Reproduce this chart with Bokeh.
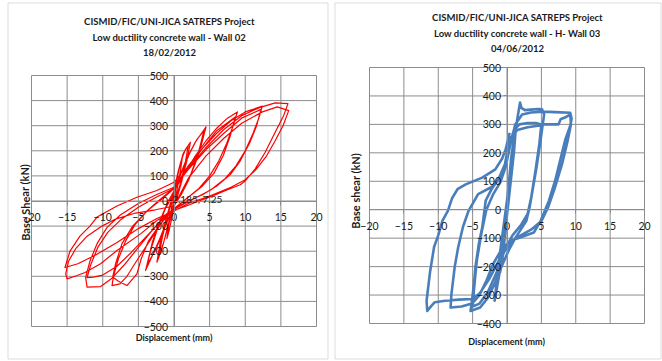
from bokeh.plotting import figure
from bokeh.layouts import row
from bokeh.models import Range1d, FixedTicker, Label, BoxAnnotation
from bokeh.embed import file_html
from bokeh.resources import INLINE

# ---------------- data ----------------
x_ticks = [-20, -15, -10, -5, 0, 5, 10, 15, 20]
wall02_y_ticks = [-500, -400, -300, -200, -100, 0, 100, 200, 300, 400, 500]
wall03_y_ticks = [-400, -300, -200, -100, 0, 100, 200, 300, 400, 500]

wall02_title = ["CISMID/FIC/UNI-JICA SATREPS Project",
                "Low ductility concrete wall - Wall 02", "18/02/2012"]
wall03_title = ["CISMID/FIC/UNI-JICA SATREPS Project",
                "Low ductility concrete wall - H- Wall 03", "04/06/2012"]

wall02_point_label = [-2.185, 7.25]

# Wall 02 : displacement (mm) / base shear (kN)
wall02_disp = [
    0, 0.3, 0.7, 1.2, 0.9, 0.4, 0, -0.4, -0.7, -1.0, -0.7, -0.3, 0,
    0.5, 1.0, 1.6, 2.3, 1.8, 1.1, 0.4, -0.3, -1.0, -1.7, -2.4, -1.9, -1.2, -0.5, 0,
    0.6, 1.3, 2.0, 1.5, 0.8, 0.1, -0.6, -1.4, -2.2, -1.6, -0.8, -0.1,
    0.8, 1.8, 3.0, 4.5, 3.8, 3.0, 2.0, 1.0, 0, -1.0, -2.0, -3.0, -4.0, -3.2, -2.2, -1.2, 0,
    1.0, 2.2, 3.2, 4.2, 3.4, 2.4, 1.2, 0, -1.2, -2.5, -3.8, -3.0, -2.0, -0.8, 0,
    1.5, 3.0, 4.5, 6.0, 7.5, 8.9, 8.3, 7.4, 6.3, 5.0, 3.5, 2.0, 0.5, -1.0, -2.5, -4.0,
    -5.5, -6.6, -7.6, -8.7, -8.5, -7.8, -6.8, -5.5, -3.8, -2.0, -0.5, 0.3,
    2.0, 4.0, 6.0, 8.6, 7.9, 6.9, 5.6, 4.0, 2.0, 0, -2.0, -3.6, -4.6, -5.2, -6.6, -7.8,
    -8.6, -8.2, -7.3, -5.8, -3.8, -1.6, 0,
    2.0, 4.0, 6.0, 8.0, 10.0, 12.4, 11.9, 11.1, 10.0, 8.7, 7.2, 5.2, 3.0, 1.0, -1.0, -3.0,
    -5.0, -7.0, -8.8, -10.3, -12.2, -12.4, -11.8, -10.8, -9.4, -7.5, -5.0, -2.5, 0,
    2.0, 4.5, 7.0, 9.5, 12.2, 11.6, 10.6, 9.3, 7.9, 6.0, 4.0, 2.0, 0, -2.0, -4.0, -6.0,
    -8.0, -10.0, -11.3, -12.2, -11.7, -10.7, -9.3, -7.5, -5.0, -2.5, 0,
    2.0, 4.4, 7.0, 9.5, 12.0, 14.2, 16.0, 15.4, 14.2, 12.8, 11.4, 10.0, 9.3, 7.5, 5.6, 3.7,
    1.9, 0, -2.4, -4.7, -8.0, -10.3, -12.5, -13.6, -15.0, -15.2, -14.8, -13.8, -12.2,
    -10.1, -8.2, -5.4, -2.6, 0,
    2.0, 4.5, 7.0, 9.5, 12.4, 14.5, 16.1, 15.3, 14.2, 13.0, 11.5, 10.0, 8.0, 5.0, 2.0, 0,
    -2.4, -5.0, -8.0, -11.0, -13.5, -15.3, -14.6, -13.2, -11.8, -10.8, -8.0, -5.2, -2.4, 0, 0.8,
]
wall02_shear = [
    0, 60, 130, 180, 120, 40, -20, -80, -120, -150, -90, -20, 30,
    100, 160, 205, 234, 160, 80, 10, -50, -120, -190, -244, -160, -80, -10, 40,
    120, 190, 220, 140, 60, 0, -70, -160, -230, -140, -50, 20,
    100, 170, 235, 295, 220, 150, 80, 25, -20, -80, -150, -215, -277, -190, -100, -30, 30,
    110, 190, 245, 280, 190, 110, 40, -20, -100, -190, -255, -160, -80, 0, 40,
    110, 180, 240, 290, 330, 355, 300, 230, 160, 100, 50, 15, -20, -55, -120, -185,
    -250, -300, -330, -337, -300, -230, -160, -95, -40, 5, 40, 60,
    130, 210, 280, 335, 260, 180, 110, 60, 15, -30, -95, -160, -230, -290, -337, -320,
    -303, -250, -170, -100, -40, 10, 50,
    140, 210, 270, 320, 355, 378, 330, 270, 200, 140, 90, 45, 12, -18, -50, -115,
    -185, -255, -310, -341, -343, -304, -240, -170, -105, -55, -10, 25, 55,
    125, 205, 270, 330, 365, 300, 230, 160, 105, 60, 25, 0, -30, -85, -145, -205,
    -260, -295, -303, -305, -255, -185, -125, -75, -25, 15, 50,
    130, 210, 285, 340, 372, 391, 388, 341, 274, 194, 128, 80, 65, 45, 22, 2,
    -18, -38, -78, -131, -197, -250, -285, -297, -310, -290, -240, -190, -140,
    -100, -72, -48, -35, -20,
    90, 180, 250, 310, 355, 375, 360, 300, 240, 180, 125, 85, 55, 20, -10, -40,
    -70, -110, -165, -215, -250, -265, -200, -140, -100, -64, -20, 15, 42, 75, 100,
]

# Wall 03 : displacement (mm) / base shear (kN)
wall03_disp = [
    0, 0.3, 0.6, 0.9, 0.6, 0.2, -0.2, -0.6, -1.0, -0.7, -0.3, 0.1,
    0.5, 0.9, 1.3, 1.0, 0.5, 0, -0.5, -1.0, -1.5, -1.8, -1.4, -0.9, -0.4, 0.1,
    0.6, 1.1, 1.5, 1.9, 2.1, 2.6, 3.5, 4.5, 5.1, 5.4, 5.2, 4.8, 4.3, 3.8, 3.3, 2.8, 2.0,
    1.2, 0.3, -0.8, -1.8, -2.8, -3.9, -4.6, -5.3, -5.1, -4.8, -4.6, -4.1, -3.6, -3.1,
    -2.3, -1.2, -0.3, 0.4,
    1.0, 1.8, 3.0, 4.2, 5.0, 4.7, 4.1, 3.5, 3.0, 2.0, 0.8, -0.3, -1.5, -2.8, -4.0, -5.0,
    -4.8, -4.4, -3.7, -3.0, -2.0, -1.0, -0.2,
    0.5, 1.2, 2.2, 3.5, 5.2, 7.0, 9.2, 9.4, 9.2, 8.5, 7.7, 7.0, 6.1, 4.9, 3.9, 2.0, 0.5,
    -0.9, -2.0, -3.0, -4.0, -5.1, -6.6, -8.2, -8.1, -7.6, -7.1, -6.4, -5.6, -4.2, -2.3,
    -1.0, -0.3,
    0.4, 1.5, 3.0, 4.5, 5.4, 7.5, 7.8, 8.5, 9.2, 9.3, 8.8, 8.0, 7.0, 6.0, 5.0, 3.5, 2.0,
    0.5, -1.0, -2.5, -4.0, -5.1, -7.0, -9.0, -10.5, -11.0, -11.6, -11.7, -11.2, -10.6,
    -10.0, -9.4, -8.6, -8.0, -7.2, -6.0, -3.6, -1.7, -0.7, -0.2, 0.4,
]
wall03_shear = [
    0, 100, 180, 230, 130, 30, -70, -160, -220, -130, -40, 50,
    150, 230, 290, 200, 90, -20, -120, -210, -280, -320, -230, -130, -40, 50,
    160, 250, 320, 377, 358, 350, 352, 354, 353, 335, 300, 230, 150, 80, 10, -40, -70,
    -100, -140, -200, -260, -310, -344, -350, -356, -320, -260, -203, -120, -62, 32,
    70, 110, 160, 230,
    280, 300, 305, 305, 300, 230, 130, 40, -15, -55, -90, -140, -220, -290, -330, -340,
    -280, -180, -80, 0, 55, 95, 150,
    230, 300, 335, 342, 345, 343, 341, 320, 295, 248, 170, 102, 32, -39, -80, -97, -109,
    -144, -190, -250, -300, -330, -340, -344, -300, -200, -132, -60, -4, 55, 79,
    110, 160,
    250, 280, 290, 295, 300, 300, 318, 325, 335, 300, 240, 160, 80, 10, -40, -70, -90,
    -115, -170, -240, -295, -314, -316, -320, -325, -338, -356, -320, -220, -130,
    -90, -39, -4, 40, 72, 89, 113, 142, 180, 212, 270,
]

# ---------------- styling ----------------
FONT = "Lato"
GRID = "#8c8c8c"
TXT = "#1a1a1a"
W, H = 331, 361


def panel(frame_px, y_lo, y_hi, y_ticks, xs, ys, color, lw,
          titles, title_px, ylab, ylab_px, xlab_px, box_px):
    fx0, fx1, fy0, fy1 = frame_px          # plot-area edges in canvas pixels
    sx = (fx1 - fx0) / (x_ticks[-1] - x_ticks[0])
    sy = (fy1 - fy0) / (y_hi - y_lo)

    def dx(px):
        return x_ticks[0] + (px - fx0) / sx

    def dy(py):
        return y_hi - (py - fy0) / sy

    p = figure(width=W, height=H, output_backend="svg", toolbar_location=None,
               x_range=Range1d(dx(0), dx(W)), y_range=Range1d(dy(H), dy(0)),
               min_border_left=0, min_border_right=0,
               min_border_top=0, min_border_bottom=0)
    p.title.visible = False
    p.background_fill_color = "white"
    p.border_fill_color = "white"
    p.outline_line_color = None
    p.grid.visible = False

    # plot-area grid (drawn from the tick lists)
    p.segment(x0=x_ticks, y0=[y_lo] * len(x_ticks), x1=x_ticks, y1=[y_hi] * len(x_ticks),
              line_color=GRID, line_width=1, level="underlay")
    p.segment(x0=[x_ticks[0]] * len(y_ticks), y0=y_ticks,
              x1=[x_ticks[-1]] * len(y_ticks), y1=y_ticks,
              line_color=GRID, line_width=1, level="underlay")

    p.xaxis.fixed_location = 0
    p.yaxis.fixed_location = 0
    p.xaxis.bounds = (x_ticks[0], x_ticks[-1])
    p.yaxis.bounds = (y_lo, y_hi)
    p.xaxis.ticker = FixedTicker(ticks=x_ticks)
    p.yaxis.ticker = FixedTicker(ticks=y_ticks)
    for ax in (p.xaxis, p.yaxis):
        ax.axis_line_color = GRID
        ax.major_tick_line_color = GRID
        ax.major_tick_in = 0
        ax.major_tick_out = 4
        ax.minor_tick_line_color = None
        ax.major_label_text_font = FONT
        ax.major_label_text_font_size = "10.5px"
        ax.major_label_text_color = TXT
    p.xaxis.major_label_standoff = 8
    p.yaxis.major_label_standoff = 2

    p.line(xs, ys, line_color=color, line_width=lw, line_join="round")

    for i, t in enumerate(titles):
        p.add_layout(Label(x=dx(title_px[0]), y=dy(title_px[1] + i * 15.5), text=t,
                           text_align="center", text_baseline="middle",
                           text_font=FONT, text_font_style="bold",
                           text_font_size="9.5px", text_color=TXT))
    p.add_layout(Label(x=dx(ylab_px[0]), y=dy(ylab_px[1]), text=ylab, angle=1.5708,
                       text_align="center", text_baseline="middle",
                       text_font=FONT, text_font_style="bold",
                       text_font_size="11px", text_color=TXT))
    p.add_layout(Label(x=dx(xlab_px[0]), y=dy(xlab_px[1]), text="Displacement (mm)",
                       text_align="center", text_baseline="middle",
                       text_font=FONT, text_font_style="bold",
                       text_font_size="9px", text_color=TXT))
    p.add_layout(BoxAnnotation(left=dx(box_px[0]), right=dx(box_px[1]),
                               top=dy(box_px[2]), bottom=dy(box_px[3]),
                               fill_color=None, fill_alpha=0,
                               line_color=GRID, line_width=1))
    return p


p1 = panel((31, 316, 75, 326), -500, 500, wall02_y_ticks,
           wall02_disp, wall02_shear, "#FF0000", 1.2,
           wall02_title, (169, 21), "Base Shear  (kN)", (24.5, 200.5), (173.5, 337),
           (7.5, 327.5, 2.5, 358.5))
p1.add_layout(Label(x=wall02_point_label[0], y=wall02_point_label[1],
                    text="%s, %s" % (wall02_point_label[0], wall02_point_label[1]),
                    x_offset=10, text_baseline="middle", text_font=FONT,
                    text_font_size="10px", text_color=TXT))

p2 = panel((38, 313, 67, 323), -400, 500, wall03_y_ticks,
           wall03_disp, wall03_shear, "#4A7EBB", 2.6,
           wall03_title, (186, 17), "Base shear  (kN)", (24, 189), (175, 341),
           (3.5, 329.5, 2.5, 358.5))

layout = row(p1, p2)
open("out.html", "w").write(file_html(layout, INLINE))
